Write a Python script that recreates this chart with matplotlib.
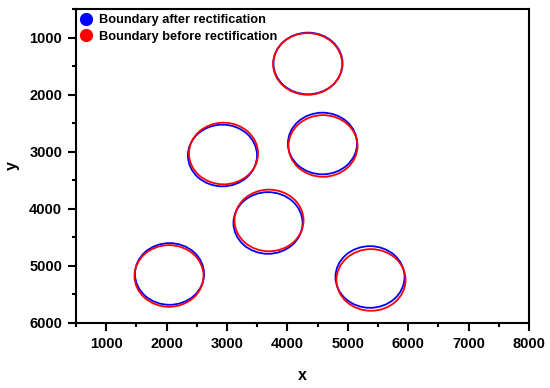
import numpy as np
import matplotlib
matplotlib.use("Agg")
import matplotlib.pyplot as plt
from matplotlib.patches import Ellipse
from matplotlib.lines import Line2D
from matplotlib.ticker import MultipleLocator

plt.rcParams['font.family'] = ['Liberation Sans', 'DejaVu Sans']
plt.rcParams['font.weight'] = 'bold'

# hole centres (x, y), radii in data units
after_x = [4341, 2925, 4581, 3679, 2048, 5368]
after_y = [1454, 3066, 2856, 4248, 5141, 5194]
before_x = [4335, 2942, 4589, 3695, 2040, 5384]
before_y = [1462, 3031, 2899, 4204, 5176, 5246]
rad_x = 572
rad_y = 540

labels = ['Boundary after rectification', 'Boundary before rectification']
colors = ['#0000ff', '#ff0000']

fig = plt.figure(figsize=(5.5, 3.88), dpi=100)
ax = fig.add_axes([76/550, 1 - 323/388, (529-76)/550, (323-9)/388])

for cx, cy in zip(after_x, after_y):
    ax.add_patch(Ellipse((cx, cy), 2*rad_x, 2*rad_y, fill=False, edgecolor=colors[0], lw=1.3))
for cx, cy in zip(before_x, before_y):
    ax.add_patch(Ellipse((cx, cy), 2*rad_x, 2*rad_y, fill=False, edgecolor=colors[1], lw=1.3))

ax.set_xlim(500, 8000)
ax.set_ylim(6000, 500)
ax.xaxis.set_minor_locator(MultipleLocator(500))
ax.yaxis.set_minor_locator(MultipleLocator(500))
ax.set_xticks(np.arange(1000, 8001, 1000))
ax.set_yticks(np.arange(1000, 6001, 1000))
ax.tick_params(which='major', direction='out', length=6, width=1.5, labelsize=10.5, pad=4)
ax.tick_params(which='minor', direction='out', length=3, width=1.5)
for s in ax.spines.values():
    s.set_linewidth(1.5)

ax.set_xlabel('x', fontsize=11.5, fontweight='bold', labelpad=12)
ax.set_ylabel('y', fontsize=11.5, fontweight='bold', labelpad=7)

handles = [Line2D([], [], ls='none', marker='o', ms=8.5, color=c) for c in colors]
ax.legend(handles, labels, loc='upper left', frameon=False, fontsize=9.2,
          handlelength=0.7, handletextpad=0.7, borderaxespad=0.05,
          labelspacing=0.35, borderpad=0.35)

fig.savefig('out.png', dpi=100)
